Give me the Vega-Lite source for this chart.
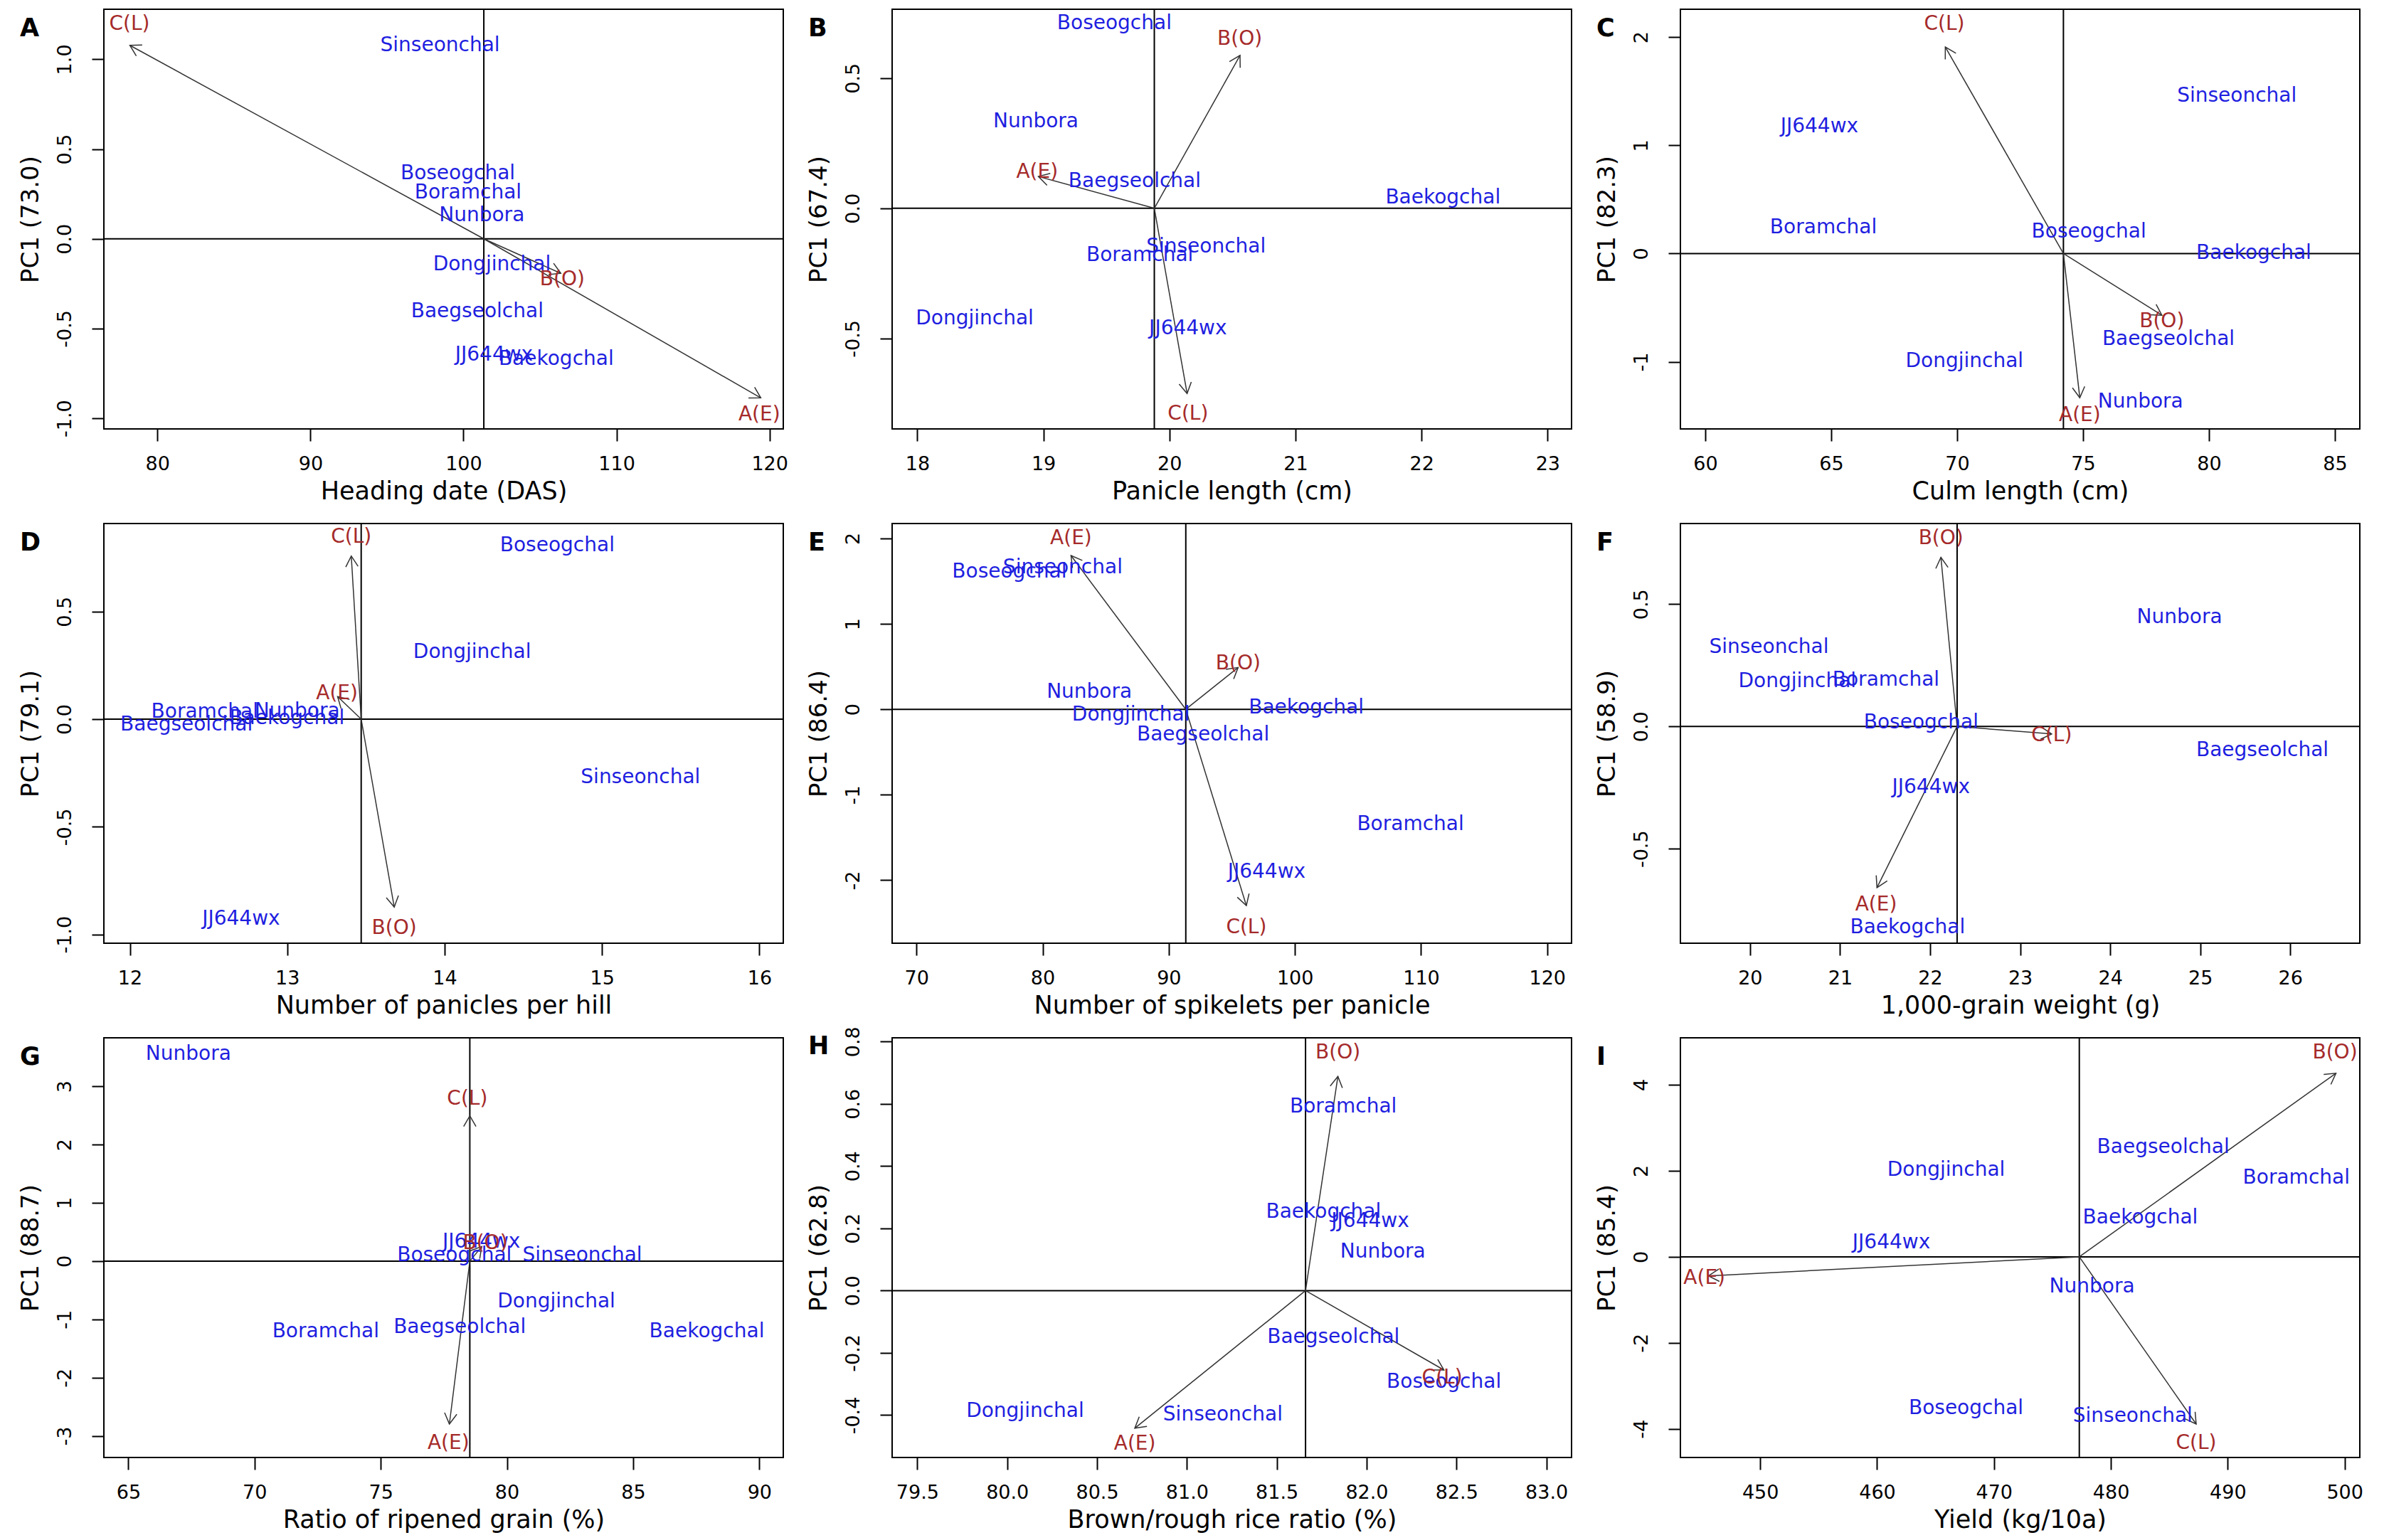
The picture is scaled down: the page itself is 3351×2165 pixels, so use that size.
{
"$schema": "https://vega.github.io/schema/vega-lite/v6.json",
"background": "white",
"padding": {"left": 24, "top": 11, "right": 0, "bottom": 0},
"autosize": {"type": "pad"},
"config": {
  "view": {"stroke": "black", "strokeWidth": 2},
  "axis": {"domain": false, "grid": false, "ticks": true, "tickSize": 17, "tickWidth": 2, "tickColor": "black", "labelFont": "DejaVu Sans", "labelFontSize": 27, "labelColor": "black", "titleFont": "DejaVu Sans", "titleFontSize": 35, "titleFontWeight": "normal", "titleColor": "black", "labelFlush": false, "labelOverlap": false},
  "axisX": {"labelPadding": 19, "titlePadding": 8, "labelAngle": 0},
  "axisY": {"labelAngle": -90, "labelAlign": "center", "labelBaseline": "bottom", "labelPadding": 24, "titlePadding": 17, "titleFontSize": 34},
  "title": {"font": "DejaVu Sans", "fontSize": 35, "fontWeight": "bold", "anchor": "start", "frame": "group", "orient": "top", "offset": -37, "baseline": "top", "dx": -118, "dy": 9, "color": "black"},
  "text": {"font": "DejaVu Sans", "fontSize": 28},
  "point": {"shape": "M -0.5 0.866 L 0 0 L 0.5 0.866", "filled": false, "size": 1200, "strokeWidth": 1.5, "color": "#333333", "opacity": 1}
},
"datasets": {
  "pts": [
    {"p":"A","n":"Sinseonchal","t":"v","x":98.47,"y":1.078},
    {"p":"A","n":"Boseogchal","t":"v","x":99.63,"y":0.362},
    {"p":"A","n":"Boramchal","t":"v","x":100.3,"y":0.256},
    {"p":"A","n":"Nunbora","t":"v","x":101.2,"y":0.128},
    {"p":"A","n":"Dongjinchal","t":"v","x":101.86,"y":-0.142},
    {"p":"A","n":"Baegseolchal","t":"v","x":100.9,"y":-0.407},
    {"p":"A","n":"JJ644wx","t":"v","x":102.0,"y":-0.645},
    {"p":"A","n":"Baekogchal","t":"v","x":106.06,"y":-0.672},
    {"p":"A","n":"C(L)","t":"e","x":78.17,"y":1.196},
    {"p":"A","n":"B(O)","t":"e","x":106.46,"y":-0.225},
    {"p":"A","n":"A(E)","t":"e","x":119.33,"y":-0.981},

    {"p":"B","n":"Boseogchal","t":"v","x":19.563,"y":0.709},
    {"p":"B","n":"Nunbora","t":"v","x":18.94,"y":0.332},
    {"p":"B","n":"Baegseolchal","t":"v","x":19.724,"y":0.103},
    {"p":"B","n":"Baekogchal","t":"v","x":22.17,"y":0.040},
    {"p":"B","n":"Sinseonchal","t":"v","x":20.29,"y":-0.148},
    {"p":"B","n":"Boramchal","t":"v","x":19.765,"y":-0.182},
    {"p":"B","n":"Dongjinchal","t":"v","x":18.455,"y":-0.423},
    {"p":"B","n":"JJ644wx","t":"v","x":20.147,"y":-0.463},
    {"p":"B","n":"B(O)","t":"e","x":20.558,"y":0.648},
    {"p":"B","n":"A(E)","t":"e","x":18.95,"y":0.138},
    {"p":"B","n":"C(L)","t":"e","x":20.147,"y":-0.790},

    {"p":"C","n":"Sinseonchal","t":"v","x":81.11,"y":1.455},
    {"p":"C","n":"JJ644wx","t":"v","x":64.53,"y":1.173},
    {"p":"C","n":"Boramchal","t":"v","x":64.69,"y":0.242},
    {"p":"C","n":"Boseogchal","t":"v","x":75.23,"y":0.197},
    {"p":"C","n":"Baekogchal","t":"v","x":81.78,"y":0.006},
    {"p":"C","n":"Baegseolchal","t":"v","x":78.39,"y":-0.794},
    {"p":"C","n":"Dongjinchal","t":"v","x":70.29,"y":-0.994},
    {"p":"C","n":"Nunbora","t":"v","x":77.28,"y":-1.370},
    {"p":"C","n":"C(L)","t":"e","x":69.49,"y":2.121},
    {"p":"C","n":"B(O)","t":"e","x":78.13,"y":-0.630},
    {"p":"C","n":"A(E)","t":"e","x":74.87,"y":-1.494},

    {"p":"D","n":"Boseogchal","t":"v","x":14.716,"y":0.806},
    {"p":"D","n":"Dongjinchal","t":"v","x":14.175,"y":0.311},
    {"p":"D","n":"Boramchal","t":"v","x":12.476,"y":0.034},
    {"p":"D","n":"Nunbora","t":"v","x":13.063,"y":0.037},
    {"p":"D","n":"Baekogchal","t":"v","x":12.998,"y":0.003},
    {"p":"D","n":"Baegseolchal","t":"v","x":12.36,"y":-0.027},
    {"p":"D","n":"Sinseonchal","t":"v","x":15.245,"y":-0.271},
    {"p":"D","n":"JJ644wx","t":"v","x":12.707,"y":-0.927},
    {"p":"D","n":"C(L)","t":"e","x":13.407,"y":0.845},
    {"p":"D","n":"A(E)","t":"e","x":13.316,"y":0.120},
    {"p":"D","n":"B(O)","t":"e","x":13.68,"y":-0.970},

    {"p":"E","n":"Sinseonchal","t":"v","x":81.6,"y":1.657},
    {"p":"E","n":"Boseogchal","t":"v","x":77.37,"y":1.608},
    {"p":"E","n":"Nunbora","t":"v","x":83.70,"y":0.199},
    {"p":"E","n":"Baekogchal","t":"v","x":100.90,"y":0.019},
    {"p":"E","n":"Dongjinchal","t":"v","x":87.0,"y":-0.069},
    {"p":"E","n":"Baegseolchal","t":"v","x":92.72,"y":-0.295},
    {"p":"E","n":"Boramchal","t":"v","x":109.16,"y":-1.347},
    {"p":"E","n":"JJ644wx","t":"v","x":97.76,"y":-1.902},
    {"p":"E","n":"A(E)","t":"e","x":82.25,"y":1.998},
    {"p":"E","n":"B(O)","t":"e","x":95.5,"y":0.536},
    {"p":"E","n":"C(L)","t":"e","x":96.15,"y":-2.557},

    {"p":"F","n":"Nunbora","t":"v","x":24.77,"y":0.444},
    {"p":"F","n":"Sinseonchal","t":"v","x":20.21,"y":0.324},
    {"p":"F","n":"Dongjinchal","t":"v","x":20.525,"y":0.183},
    {"p":"F","n":"Boramchal","t":"v","x":21.51,"y":0.190},
    {"p":"F","n":"Boseogchal","t":"v","x":21.90,"y":0.016},
    {"p":"F","n":"Baegseolchal","t":"v","x":25.69,"y":-0.098},
    {"p":"F","n":"JJ644wx","t":"v","x":22.01,"y":-0.249},
    {"p":"F","n":"Baekogchal","t":"v","x":21.75,"y":-0.822},
    {"p":"F","n":"B(O)","t":"e","x":22.12,"y":0.767},
    {"p":"F","n":"C(L)","t":"e","x":23.35,"y":-0.037},
    {"p":"F","n":"A(E)","t":"e","x":21.40,"y":-0.730},

    {"p":"G","n":"Nunbora","t":"v","x":67.38,"y":3.551},
    {"p":"G","n":"JJ644wx","t":"v","x":78.99,"y":0.326},
    {"p":"G","n":"Boseogchal","t":"v","x":77.92,"y":0.101},
    {"p":"G","n":"Sinseonchal","t":"v","x":82.99,"y":0.101},
    {"p":"G","n":"Dongjinchal","t":"v","x":81.96,"y":-0.698},
    {"p":"G","n":"Baegseolchal","t":"v","x":78.13,"y":-1.137},
    {"p":"G","n":"Boramchal","t":"v","x":72.82,"y":-1.204},
    {"p":"G","n":"Baekogchal","t":"v","x":87.92,"y":-1.204},
    {"p":"G","n":"C(L)","t":"e","x":78.43,"y":2.786},
    {"p":"G","n":"B(O)","t":"e","x":79.14,"y":0.298},
    {"p":"G","n":"A(E)","t":"e","x":77.68,"y":-3.123},

    {"p":"H","n":"Boramchal","t":"v","x":81.87,"y":0.590},
    {"p":"H","n":"Baekogchal","t":"v","x":81.76,"y":0.253},
    {"p":"H","n":"JJ644wx","t":"v","x":82.02,"y":0.222},
    {"p":"H","n":"Nunbora","t":"v","x":82.09,"y":0.124},
    {"p":"H","n":"Baegseolchal","t":"v","x":81.815,"y":-0.150},
    {"p":"H","n":"Boseogchal","t":"v","x":82.43,"y":-0.294},
    {"p":"H","n":"Dongjinchal","t":"v","x":80.10,"y":-0.387},
    {"p":"H","n":"Sinseonchal","t":"v","x":81.20,"y":-0.399},
    {"p":"H","n":"B(O)","t":"e","x":81.84,"y":0.764},
    {"p":"H","n":"C(L)","t":"e","x":82.42,"y":-0.279},
    {"p":"H","n":"A(E)","t":"e","x":80.71,"y":-0.492},

    {"p":"I","n":"Baegseolchal","t":"v","x":484.48,"y":2.537},
    {"p":"I","n":"Dongjinchal","t":"v","x":465.91,"y":2.019},
    {"p":"I","n":"Boramchal","t":"v","x":495.87,"y":1.829},
    {"p":"I","n":"Baekogchal","t":"v","x":482.52,"y":0.914},
    {"p":"I","n":"JJ644wx","t":"v","x":461.22,"y":0.328},
    {"p":"I","n":"Nunbora","t":"v","x":478.39,"y":-0.701},
    {"p":"I","n":"Boseogchal","t":"v","x":467.61,"y":-3.520},
    {"p":"I","n":"Sinseonchal","t":"v","x":481.87,"y":-3.710},
    {"p":"I","n":"B(O)","t":"e","x":499.17,"y":4.739},
    {"p":"I","n":"A(E)","t":"e","x":445.22,"y":-0.495},
    {"p":"I","n":"C(L)","t":"e","x":487.30,"y":-4.328}
  ],
  "arr": [
    {"p":"A","n":"C(L)","ox":101.33,"oy":0,"tx":78.2,"ty":1.078},
    {"p":"A","n":"B(O)","ox":101.33,"oy":0,"tx":106.36,"ty":-0.192},
    {"p":"A","n":"A(E)","ox":101.33,"oy":0,"tx":119.43,"ty":-0.886},
    {"p":"B","n":"B(O)","ox":19.88,"oy":0,"tx":20.56,"ty":0.587},
    {"p":"B","n":"A(E)","ox":19.88,"oy":0,"tx":18.96,"ty":0.122},
    {"p":"B","n":"C(L)","ox":19.88,"oy":0,"tx":20.14,"ty":-0.711},
    {"p":"C","n":"C(L)","ox":74.22,"oy":0,"tx":69.53,"ty":1.909},
    {"p":"C","n":"B(O)","ox":74.22,"oy":0,"tx":78.13,"ty":-0.570},
    {"p":"C","n":"A(E)","ox":74.22,"oy":0,"tx":74.87,"ty":-1.333},
    {"p":"D","n":"C(L)","ox":13.47,"oy":0,"tx":13.407,"ty":0.758},
    {"p":"D","n":"A(E)","ox":13.47,"oy":0,"tx":13.32,"ty":0.105},
    {"p":"D","n":"B(O)","ox":13.47,"oy":0,"tx":13.68,"ty":-0.873},
    {"p":"E","n":"A(E)","ox":91.35,"oy":0,"tx":82.25,"ty":1.799},
    {"p":"E","n":"B(O)","ox":91.35,"oy":0,"tx":95.5,"ty":0.49},
    {"p":"E","n":"C(L)","ox":91.35,"oy":0,"tx":96.15,"ty":-2.297},
    {"p":"F","n":"B(O)","ox":22.30,"oy":0,"tx":22.12,"ty":0.691},
    {"p":"F","n":"C(L)","ox":22.30,"oy":0,"tx":23.35,"ty":-0.031},
    {"p":"F","n":"A(E)","ox":22.30,"oy":0,"tx":21.41,"ty":-0.659},
    {"p":"G","n":"C(L)","ox":78.53,"oy":0,"tx":78.53,"ty":2.493},
    {"p":"G","n":"B(O)","ox":78.53,"oy":0,"tx":79.0,"ty":0.25},
    {"p":"G","n":"A(E)","ox":78.53,"oy":0,"tx":77.72,"ty":-2.797},
    {"p":"H","n":"B(O)","ox":81.66,"oy":0,"tx":81.84,"ty":0.688},
    {"p":"H","n":"C(L)","ox":81.66,"oy":0,"tx":82.43,"ty":-0.255},
    {"p":"H","n":"A(E)","ox":81.66,"oy":0,"tx":80.71,"ty":-0.442},
    {"p":"I","n":"B(O)","ox":477.3,"oy":0,"tx":499.26,"ty":4.267},
    {"p":"I","n":"A(E)","ox":477.3,"oy":0,"tx":445.57,"ty":-0.442},
    {"p":"I","n":"C(L)","ox":477.3,"oy":0,"tx":487.3,"ty":-3.886}
  ]
},
"columns": 3,
"spacing": {"row": 133, "column": 153},
"bounds": "flush",
"concat": [
  {"width":955,"height":590,"title":"A","layer":[
   {"data":{"values":[{}]},"mark":{"type":"rule","color":"black","strokeWidth":2},"encoding":{"x":{"datum":101.33,"type":"quantitative","scale":{"domain":[76.5,120.9],"nice":false,"zero":false},"title":"Heading date (DAS)","axis":{"values":[80,90,100,110,120],"format":"d"}}}},
   {"data":{"values":[{}]},"mark":{"type":"rule","color":"black","strokeWidth":2},"encoding":{"y":{"datum":0,"type":"quantitative","scale":{"domain":[-1.059,1.279],"nice":false,"zero":false},"title":"PC1 (73.0)","axis":{"values":[-1,-0.5,0,0.5,1],"format":".1f","labelExpr":"replace(datum.label,'\u2212','-')"}}}},
   {"data":{"name":"arr"},"transform":[{"filter":"datum.p==='A'"}],"mark":{"type":"rule","color":"#333333","strokeWidth":1.5},"encoding":{"x":{"field":"ox","type":"quantitative","scale":{"domain":[76.5,120.9],"nice":false,"zero":false},"title":"Heading date (DAS)"},"y":{"field":"oy","type":"quantitative","scale":{"domain":[-1.059,1.279],"nice":false,"zero":false},"title":"PC1 (73.0)"},"x2":{"field":"tx"},"y2":{"field":"ty"}}},
   {"data":{"name":"arr"},"transform":[{"filter":"datum.p==='A'"}],"mark":{"type":"point","angle":{"expr":"atan2((datum.tx-datum.ox)*21.509,(datum.ty-datum.oy)*252.35)*180/PI"}},"encoding":{"x":{"field":"tx","type":"quantitative","scale":{"domain":[76.5,120.9],"nice":false,"zero":false},"title":"Heading date (DAS)"},"y":{"field":"ty","type":"quantitative","scale":{"domain":[-1.059,1.279],"nice":false,"zero":false},"title":"PC1 (73.0)"}}},
   {"data":{"name":"pts"},"transform":[{"filter":"datum.p==='A'"}],"mark":{"type":"text"},"encoding":{"x":{"field":"x","type":"quantitative","scale":{"domain":[76.5,120.9],"nice":false,"zero":false},"title":"Heading date (DAS)"},"y":{"field":"y","type":"quantitative","scale":{"domain":[-1.059,1.279],"nice":false,"zero":false},"title":"PC1 (73.0)"},"text":{"field":"n"},"color":{"field":"t","type":"nominal","scale":{"domain":["v","e"],"range":["#1f1fe0","#a52a2a"]},"legend":null}}}
  ]},
  {"width":955,"height":590,"title":"B","layer":[
   {"data":{"values":[{}]},"mark":{"type":"rule","color":"black","strokeWidth":2},"encoding":{"x":{"datum":19.88,"type":"quantitative","scale":{"domain":[17.80,23.19],"nice":false,"zero":false},"title":"Panicle length (cm)","axis":{"values":[18,19,20,21,22,23],"format":"d"}}}},
   {"data":{"values":[{}]},"mark":{"type":"rule","color":"black","strokeWidth":2},"encoding":{"y":{"datum":0,"type":"quantitative","scale":{"domain":[-0.847,0.764],"nice":false,"zero":false},"title":"PC1 (67.4)","axis":{"values":[-0.5,0,0.5],"format":".1f","labelExpr":"replace(datum.label,'\u2212','-')"}}}},
   {"data":{"name":"arr"},"transform":[{"filter":"datum.p==='B'"}],"mark":{"type":"rule","color":"#333333","strokeWidth":1.5},"encoding":{"x":{"field":"ox","type":"quantitative","scale":{"domain":[17.80,23.19],"nice":false,"zero":false},"title":"Panicle length (cm)"},"y":{"field":"oy","type":"quantitative","scale":{"domain":[-0.847,0.764],"nice":false,"zero":false},"title":"PC1 (67.4)"},"x2":{"field":"tx"},"y2":{"field":"ty"}}},
   {"data":{"name":"arr"},"transform":[{"filter":"datum.p==='B'"}],"mark":{"type":"point","angle":{"expr":"atan2((datum.tx-datum.ox)*177.18,(datum.ty-datum.oy)*366.23)*180/PI"}},"encoding":{"x":{"field":"tx","type":"quantitative","scale":{"domain":[17.80,23.19],"nice":false,"zero":false},"title":"Panicle length (cm)"},"y":{"field":"ty","type":"quantitative","scale":{"domain":[-0.847,0.764],"nice":false,"zero":false},"title":"PC1 (67.4)"}}},
   {"data":{"name":"pts"},"transform":[{"filter":"datum.p==='B'"}],"mark":{"type":"text"},"encoding":{"x":{"field":"x","type":"quantitative","scale":{"domain":[17.80,23.19],"nice":false,"zero":false},"title":"Panicle length (cm)"},"y":{"field":"y","type":"quantitative","scale":{"domain":[-0.847,0.764],"nice":false,"zero":false},"title":"PC1 (67.4)"},"text":{"field":"n"},"color":{"field":"t","type":"nominal","scale":{"domain":["v","e"],"range":["#1f1fe0","#a52a2a"]},"legend":null}}}
  ]},
  {"width":955,"height":590,"title":"C","layer":[
   {"data":{"values":[{}]},"mark":{"type":"rule","color":"black","strokeWidth":2},"encoding":{"x":{"datum":74.22,"type":"quantitative","scale":{"domain":[59.01,85.99],"nice":false,"zero":false},"title":"Culm length (cm)","axis":{"values":[60,65,70,75,80,85],"format":"d"}}}},
   {"data":{"values":[{}]},"mark":{"type":"rule","color":"black","strokeWidth":2},"encoding":{"y":{"datum":0,"type":"quantitative","scale":{"domain":[-1.621,2.258],"nice":false,"zero":false},"title":"PC1 (82.3)","axis":{"values":[-1,0,1,2],"format":"d","labelExpr":"replace(datum.label,'\u2212','-')"}}}},
   {"data":{"name":"arr"},"transform":[{"filter":"datum.p==='C'"}],"mark":{"type":"rule","color":"#333333","strokeWidth":1.5},"encoding":{"x":{"field":"ox","type":"quantitative","scale":{"domain":[59.01,85.99],"nice":false,"zero":false},"title":"Culm length (cm)"},"y":{"field":"oy","type":"quantitative","scale":{"domain":[-1.621,2.258],"nice":false,"zero":false},"title":"PC1 (82.3)"},"x2":{"field":"tx"},"y2":{"field":"ty"}}},
   {"data":{"name":"arr"},"transform":[{"filter":"datum.p==='C'"}],"mark":{"type":"point","angle":{"expr":"atan2((datum.tx-datum.ox)*35.396,(datum.ty-datum.oy)*152.10)*180/PI"}},"encoding":{"x":{"field":"tx","type":"quantitative","scale":{"domain":[59.01,85.99],"nice":false,"zero":false},"title":"Culm length (cm)"},"y":{"field":"ty","type":"quantitative","scale":{"domain":[-1.621,2.258],"nice":false,"zero":false},"title":"PC1 (82.3)"}}},
   {"data":{"name":"pts"},"transform":[{"filter":"datum.p==='C'"}],"mark":{"type":"text"},"encoding":{"x":{"field":"x","type":"quantitative","scale":{"domain":[59.01,85.99],"nice":false,"zero":false},"title":"Culm length (cm)"},"y":{"field":"y","type":"quantitative","scale":{"domain":[-1.621,2.258],"nice":false,"zero":false},"title":"PC1 (82.3)"},"text":{"field":"n"},"color":{"field":"t","type":"nominal","scale":{"domain":["v","e"],"range":["#1f1fe0","#a52a2a"]},"legend":null}}}
  ]},
  {"width":955,"height":590,"title":"D","layer":[
   {"data":{"values":[{}]},"mark":{"type":"rule","color":"black","strokeWidth":2},"encoding":{"x":{"datum":13.47,"type":"quantitative","scale":{"domain":[11.835,16.152],"nice":false,"zero":false},"title":"Number of panicles per hill","axis":{"values":[12,13,14,15,16],"format":"d"}}}},
   {"data":{"values":[{}]},"mark":{"type":"rule","color":"black","strokeWidth":2},"encoding":{"y":{"datum":0,"type":"quantitative","scale":{"domain":[-1.041,0.909],"nice":false,"zero":false},"title":"PC1 (79.1)","axis":{"values":[-1,-0.5,0,0.5],"format":".1f","labelExpr":"replace(datum.label,'\u2212','-')"}}}},
   {"data":{"name":"arr"},"transform":[{"filter":"datum.p==='D'"}],"mark":{"type":"rule","color":"#333333","strokeWidth":1.5},"encoding":{"x":{"field":"ox","type":"quantitative","scale":{"domain":[11.835,16.152],"nice":false,"zero":false},"title":"Number of panicles per hill"},"y":{"field":"oy","type":"quantitative","scale":{"domain":[-1.041,0.909],"nice":false,"zero":false},"title":"PC1 (79.1)"},"x2":{"field":"tx"},"y2":{"field":"ty"}}},
   {"data":{"name":"arr"},"transform":[{"filter":"datum.p==='D'"}],"mark":{"type":"point","angle":{"expr":"atan2((datum.tx-datum.ox)*221.22,(datum.ty-datum.oy)*302.56)*180/PI"}},"encoding":{"x":{"field":"tx","type":"quantitative","scale":{"domain":[11.835,16.152],"nice":false,"zero":false},"title":"Number of panicles per hill"},"y":{"field":"ty","type":"quantitative","scale":{"domain":[-1.041,0.909],"nice":false,"zero":false},"title":"PC1 (79.1)"}}},
   {"data":{"name":"pts"},"transform":[{"filter":"datum.p==='D'"}],"mark":{"type":"text"},"encoding":{"x":{"field":"x","type":"quantitative","scale":{"domain":[11.835,16.152],"nice":false,"zero":false},"title":"Number of panicles per hill"},"y":{"field":"y","type":"quantitative","scale":{"domain":[-1.041,0.909],"nice":false,"zero":false},"title":"PC1 (79.1)"},"text":{"field":"n"},"color":{"field":"t","type":"nominal","scale":{"domain":["v","e"],"range":["#1f1fe0","#a52a2a"]},"legend":null}}}
  ]},
  {"width":955,"height":590,"title":"E","layer":[
   {"data":{"values":[{}]},"mark":{"type":"rule","color":"black","strokeWidth":2},"encoding":{"x":{"datum":91.35,"type":"quantitative","scale":{"domain":[68.07,121.93],"nice":false,"zero":false},"title":"Number of spikelets per panicle","axis":{"values":[70,80,90,100,110,120],"format":"d"}}}},
   {"data":{"values":[{}]},"mark":{"type":"rule","color":"black","strokeWidth":2},"encoding":{"y":{"datum":0,"type":"quantitative","scale":{"domain":[-2.737,2.174],"nice":false,"zero":false},"title":"PC1 (86.4)","axis":{"values":[-2,-1,0,1,2],"format":"d","labelExpr":"replace(datum.label,'\u2212','-')"}}}},
   {"data":{"name":"arr"},"transform":[{"filter":"datum.p==='E'"}],"mark":{"type":"rule","color":"#333333","strokeWidth":1.5},"encoding":{"x":{"field":"ox","type":"quantitative","scale":{"domain":[68.07,121.93],"nice":false,"zero":false},"title":"Number of spikelets per panicle"},"y":{"field":"oy","type":"quantitative","scale":{"domain":[-2.737,2.174],"nice":false,"zero":false},"title":"PC1 (86.4)"},"x2":{"field":"tx"},"y2":{"field":"ty"}}},
   {"data":{"name":"arr"},"transform":[{"filter":"datum.p==='E'"}],"mark":{"type":"point","angle":{"expr":"atan2((datum.tx-datum.ox)*17.731,(datum.ty-datum.oy)*120.14)*180/PI"}},"encoding":{"x":{"field":"tx","type":"quantitative","scale":{"domain":[68.07,121.93],"nice":false,"zero":false},"title":"Number of spikelets per panicle"},"y":{"field":"ty","type":"quantitative","scale":{"domain":[-2.737,2.174],"nice":false,"zero":false},"title":"PC1 (86.4)"}}},
   {"data":{"name":"pts"},"transform":[{"filter":"datum.p==='E'"}],"mark":{"type":"text"},"encoding":{"x":{"field":"x","type":"quantitative","scale":{"domain":[68.07,121.93],"nice":false,"zero":false},"title":"Number of spikelets per panicle"},"y":{"field":"y","type":"quantitative","scale":{"domain":[-2.737,2.174],"nice":false,"zero":false},"title":"PC1 (86.4)"},"text":{"field":"n"},"color":{"field":"t","type":"nominal","scale":{"domain":["v","e"],"range":["#1f1fe0","#a52a2a"]},"legend":null}}}
  ]},
  {"width":955,"height":590,"title":"F","layer":[
   {"data":{"values":[{}]},"mark":{"type":"rule","color":"black","strokeWidth":2},"encoding":{"x":{"datum":22.30,"type":"quantitative","scale":{"domain":[19.227,26.772],"nice":false,"zero":false},"title":"1,000-grain weight (g)","axis":{"values":[20,21,22,23,24,25,26],"format":"d"}}}},
   {"data":{"values":[{}]},"mark":{"type":"rule","color":"black","strokeWidth":2},"encoding":{"y":{"datum":0,"type":"quantitative","scale":{"domain":[-0.886,0.829],"nice":false,"zero":false},"title":"PC1 (58.9)","axis":{"values":[-0.5,0,0.5],"format":".1f","labelExpr":"replace(datum.label,'\u2212','-')"}}}},
   {"data":{"name":"arr"},"transform":[{"filter":"datum.p==='F'"}],"mark":{"type":"rule","color":"#333333","strokeWidth":1.5},"encoding":{"x":{"field":"ox","type":"quantitative","scale":{"domain":[19.227,26.772],"nice":false,"zero":false},"title":"1,000-grain weight (g)"},"y":{"field":"oy","type":"quantitative","scale":{"domain":[-0.886,0.829],"nice":false,"zero":false},"title":"PC1 (58.9)"},"x2":{"field":"tx"},"y2":{"field":"ty"}}},
   {"data":{"name":"arr"},"transform":[{"filter":"datum.p==='F'"}],"mark":{"type":"point","angle":{"expr":"atan2((datum.tx-datum.ox)*126.57,(datum.ty-datum.oy)*344.02)*180/PI"}},"encoding":{"x":{"field":"tx","type":"quantitative","scale":{"domain":[19.227,26.772],"nice":false,"zero":false},"title":"1,000-grain weight (g)"},"y":{"field":"ty","type":"quantitative","scale":{"domain":[-0.886,0.829],"nice":false,"zero":false},"title":"PC1 (58.9)"}}},
   {"data":{"name":"pts"},"transform":[{"filter":"datum.p==='F'"}],"mark":{"type":"text"},"encoding":{"x":{"field":"x","type":"quantitative","scale":{"domain":[19.227,26.772],"nice":false,"zero":false},"title":"1,000-grain weight (g)"},"y":{"field":"y","type":"quantitative","scale":{"domain":[-0.886,0.829],"nice":false,"zero":false},"title":"PC1 (58.9)"},"text":{"field":"n"},"color":{"field":"t","type":"nominal","scale":{"domain":["v","e"],"range":["#1f1fe0","#a52a2a"]},"legend":null}}}
  ]},
  {"width":955,"height":590,"title":"G","layer":[
   {"data":{"values":[{}]},"mark":{"type":"rule","color":"black","strokeWidth":2},"encoding":{"x":{"datum":78.53,"type":"quantitative","scale":{"domain":[64.03,90.95],"nice":false,"zero":false},"title":"Ratio of ripened grain (%)","axis":{"values":[65,70,75,80,85,90],"format":"d"}}}},
   {"data":{"values":[{}]},"mark":{"type":"rule","color":"black","strokeWidth":2},"encoding":{"y":{"datum":0,"type":"quantitative","scale":{"domain":[-3.371,3.832],"nice":false,"zero":false},"title":"PC1 (88.7)","axis":{"values":[-3,-2,-1,0,1,2,3],"format":"d","labelExpr":"replace(datum.label,'\u2212','-')"}}}},
   {"data":{"name":"arr"},"transform":[{"filter":"datum.p==='G'"}],"mark":{"type":"rule","color":"#333333","strokeWidth":1.5},"encoding":{"x":{"field":"ox","type":"quantitative","scale":{"domain":[64.03,90.95],"nice":false,"zero":false},"title":"Ratio of ripened grain (%)"},"y":{"field":"oy","type":"quantitative","scale":{"domain":[-3.371,3.832],"nice":false,"zero":false},"title":"PC1 (88.7)"},"x2":{"field":"tx"},"y2":{"field":"ty"}}},
   {"data":{"name":"arr"},"transform":[{"filter":"datum.p==='G'"}],"mark":{"type":"point","angle":{"expr":"atan2((datum.tx-datum.ox)*35.475,(datum.ty-datum.oy)*81.91)*180/PI"}},"encoding":{"x":{"field":"tx","type":"quantitative","scale":{"domain":[64.03,90.95],"nice":false,"zero":false},"title":"Ratio of ripened grain (%)"},"y":{"field":"ty","type":"quantitative","scale":{"domain":[-3.371,3.832],"nice":false,"zero":false},"title":"PC1 (88.7)"}}},
   {"data":{"name":"pts"},"transform":[{"filter":"datum.p==='G'"}],"mark":{"type":"text"},"encoding":{"x":{"field":"x","type":"quantitative","scale":{"domain":[64.03,90.95],"nice":false,"zero":false},"title":"Ratio of ripened grain (%)"},"y":{"field":"y","type":"quantitative","scale":{"domain":[-3.371,3.832],"nice":false,"zero":false},"title":"PC1 (88.7)"},"text":{"field":"n"},"color":{"field":"t","type":"nominal","scale":{"domain":["v","e"],"range":["#1f1fe0","#a52a2a"]},"legend":null}}}
  ]},
  {"width":955,"height":590,"title":"H","layer":[
   {"data":{"values":[{}]},"mark":{"type":"rule","color":"black","strokeWidth":2},"encoding":{"x":{"datum":81.66,"type":"quantitative","scale":{"domain":[79.36,83.14],"nice":false,"zero":false},"title":"Brown/rough rice ratio (%)","axis":{"values":[79.5,80,80.5,81,81.5,82,82.5,83],"format":".1f"}}}},
   {"data":{"values":[{}]},"mark":{"type":"rule","color":"black","strokeWidth":2},"encoding":{"y":{"datum":0,"type":"quantitative","scale":{"domain":[-0.536,0.812],"nice":false,"zero":false},"title":"PC1 (62.8)","axis":{"values":[-0.4,-0.2,0,0.2,0.4,0.6,0.8],"format":".1f","labelExpr":"replace(datum.label,'\u2212','-')"}}}},
   {"data":{"name":"arr"},"transform":[{"filter":"datum.p==='H'"}],"mark":{"type":"rule","color":"#333333","strokeWidth":1.5},"encoding":{"x":{"field":"ox","type":"quantitative","scale":{"domain":[79.36,83.14],"nice":false,"zero":false},"title":"Brown/rough rice ratio (%)"},"y":{"field":"oy","type":"quantitative","scale":{"domain":[-0.536,0.812],"nice":false,"zero":false},"title":"PC1 (62.8)"},"x2":{"field":"tx"},"y2":{"field":"ty"}}},
   {"data":{"name":"arr"},"transform":[{"filter":"datum.p==='H'"}],"mark":{"type":"point","angle":{"expr":"atan2((datum.tx-datum.ox)*252.65,(datum.ty-datum.oy)*437.69)*180/PI"}},"encoding":{"x":{"field":"tx","type":"quantitative","scale":{"domain":[79.36,83.14],"nice":false,"zero":false},"title":"Brown/rough rice ratio (%)"},"y":{"field":"ty","type":"quantitative","scale":{"domain":[-0.536,0.812],"nice":false,"zero":false},"title":"PC1 (62.8)"}}},
   {"data":{"name":"pts"},"transform":[{"filter":"datum.p==='H'"}],"mark":{"type":"text"},"encoding":{"x":{"field":"x","type":"quantitative","scale":{"domain":[79.36,83.14],"nice":false,"zero":false},"title":"Brown/rough rice ratio (%)"},"y":{"field":"y","type":"quantitative","scale":{"domain":[-0.536,0.812],"nice":false,"zero":false},"title":"PC1 (62.8)"},"text":{"field":"n"},"color":{"field":"t","type":"nominal","scale":{"domain":["v","e"],"range":["#1f1fe0","#a52a2a"]},"legend":null}}}
  ]},
  {"width":955,"height":590,"title":"I","layer":[
   {"data":{"values":[{}]},"mark":{"type":"rule","color":"black","strokeWidth":2},"encoding":{"x":{"datum":477.3,"type":"quantitative","scale":{"domain":[443.17,501.3],"nice":false,"zero":false},"title":"Yield (kg/10a)","axis":{"values":[450,460,470,480,490,500],"format":"d"}}}},
   {"data":{"values":[{}]},"mark":{"type":"rule","color":"black","strokeWidth":2},"encoding":{"y":{"datum":0,"type":"quantitative","scale":{"domain":[-4.663,5.09],"nice":false,"zero":false},"title":"PC1 (85.4)","axis":{"values":[-4,-2,0,2,4],"format":"d","labelExpr":"replace(datum.label,'\u2212','-')"}}}},
   {"data":{"name":"arr"},"transform":[{"filter":"datum.p==='I'"}],"mark":{"type":"rule","color":"#333333","strokeWidth":1.5},"encoding":{"x":{"field":"ox","type":"quantitative","scale":{"domain":[443.17,501.3],"nice":false,"zero":false},"title":"Yield (kg/10a)"},"y":{"field":"oy","type":"quantitative","scale":{"domain":[-4.663,5.09],"nice":false,"zero":false},"title":"PC1 (85.4)"},"x2":{"field":"tx"},"y2":{"field":"ty"}}},
   {"data":{"name":"arr"},"transform":[{"filter":"datum.p==='I'"}],"mark":{"type":"point","angle":{"expr":"atan2((datum.tx-datum.ox)*16.429,(datum.ty-datum.oy)*60.494)*180/PI"}},"encoding":{"x":{"field":"tx","type":"quantitative","scale":{"domain":[443.17,501.3],"nice":false,"zero":false},"title":"Yield (kg/10a)"},"y":{"field":"ty","type":"quantitative","scale":{"domain":[-4.663,5.09],"nice":false,"zero":false},"title":"PC1 (85.4)"}}},
   {"data":{"name":"pts"},"transform":[{"filter":"datum.p==='I'"}],"mark":{"type":"text"},"encoding":{"x":{"field":"x","type":"quantitative","scale":{"domain":[443.17,501.3],"nice":false,"zero":false},"title":"Yield (kg/10a)"},"y":{"field":"y","type":"quantitative","scale":{"domain":[-4.663,5.09],"nice":false,"zero":false},"title":"PC1 (85.4)"},"text":{"field":"n"},"color":{"field":"t","type":"nominal","scale":{"domain":["v","e"],"range":["#1f1fe0","#a52a2a"]},"legend":null}}}
  ]}
]
}
